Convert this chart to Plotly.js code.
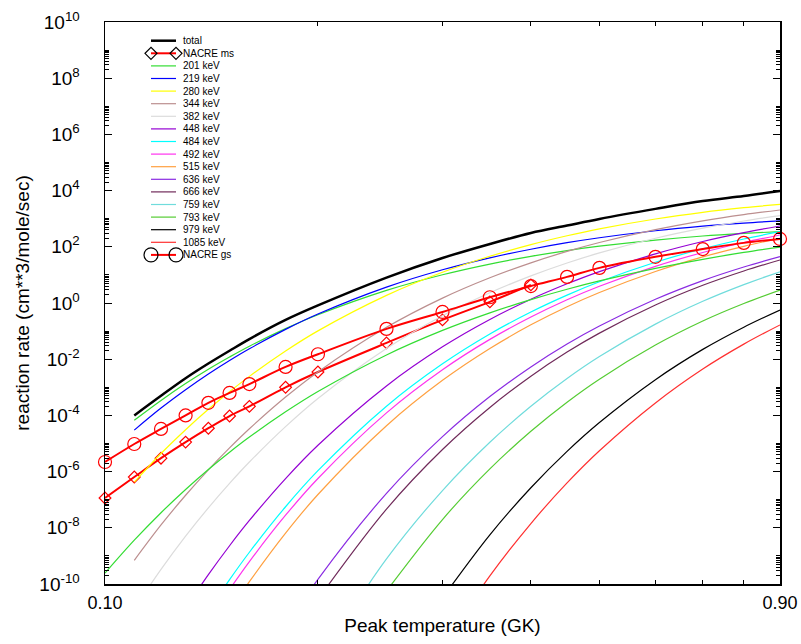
<!DOCTYPE html>
<html><head><meta charset="utf-8">
<script src="https://cdn.plot.ly/plotly-3.0.1.min.js"></script>
<style>html,body{margin:0;padding:0;background:#fff}</style>
</head><body><div id="chart" style="width:801px;height:644px"></div>
<script>
// Peak temperature grid (GK)
const temps = [0.10,0.11,0.12,0.13,0.14,0.15,0.16,0.18,0.20,0.25,0.30,0.35,0.40,0.45,0.50,0.60,0.70,0.80,0.90];

const total   = [null,1.0e-4,5.0e-4,2.1e-3,7.0e-3,2.0e-2,5.2e-2,0.25,0.82,8.0,40,126,310,570,980,2240,4270,6460,9700];
const nacreMs = [1.15e-7,6.4e-7,3.0e-6,1.12e-5,3.5e-5,9.5e-5,2.1e-4,1.0e-3,3.5e-3,3.8e-2,0.25,1.1,4.4,null,null,null,null,null,null];
const nacreGs = [2.2e-6,9.6e-6,3.3e-5,1.0e-4,2.8e-4,6.3e-4,1.3e-3,5.3e-3,1.5e-2,0.12,0.48,1.6,4.0,8.5,17.8,44,83,138,190];

const r201  = [null,6.7e-5,3.4e-4,1.36e-3,4.4e-3,1.2e-2,2.9e-2,0.122,0.38,2.8,10.1,24.3,45.8,73.6,105,174,242,299,347];
const r219  = [null,3.0e-5,1.82e-4,8.2e-4,2.97e-3,8.97e-3,2.35e-2,0.115,0.405,3.67,15.2,40.5,82,140,210,372,542,698,832];
const r280  = [null,4.2e-7,4.4e-6,3.1e-5,1.65e-4,6.97e-4,2.45e-3,1.96e-2,0.102,1.87,12.4,46,120,248,437,977,1690,2460,3240];
const r344  = [null,6.95e-10,1.26e-8,1.44e-7,1.16e-6,6.97e-6,3.34e-5,4.49e-4,3.52e-3,0.136,1.49,7.89,26.9,68.5,142,407,839,1400,2040];
const r382  = [null,1.31e-11,3.32e-10,5.04e-9,5.13e-8,3.82e-7,2.2e-6,4.0e-5,4.02e-4,2.42e-2,0.354,2.31,9.2,26.5,60.5,201,460,830,1290];
const r448  = [null,null,null,1.38e-11,2.15e-10,2.3e-9,1.82e-8,5.66e-7,8.7e-6,1.12e-3,2.75e-2,0.259,1.36,4.82,13.1,56.1,154,318,550];
const r484  = [null,null,null,null,1.1e-11,1.43e-10,1.35e-9,5.61e-8,1.08e-6,2.13e-4,6.86e-3,7.9e-2,0.479,1.91,5.69,28.1,85.3,190,347];
const r492  = [null,null,null,null,null,6.4e-11,6.3e-10,2.8e-8,5.69e-7,1.23e-4,4.22e-3,5.07e-2,0.318,1.31,3.96,20.2,62.8,142,263];
const r515  = [null,null,null,null,null,1.1e-11,1.21e-10,6.47e-9,1.53e-7,4.3e-5,1.77e-3,2.41e-2,0.167,0.738,2.37,13.2,43.7,104,200];
const r636  = [null,null,null,null,null,null,null,2.85e-12,1.47e-10,1.68e-7,1.75e-5,4.67e-4,5.32e-3,3.48e-2,0.153,1.36,6.28,19.1,44.7];
const r666  = [null,null,null,null,null,null,null,null,2.85e-11,4.63e-8,6.12e-6,1.92e-4,2.48e-3,1.79e-2,8.49e-2,0.847,4.27,13.8,33.9];
const r759  = [null,null,null,null,null,null,null,null,1.6e-13,7.8e-10,2.12e-7,1.11e-5,2.11e-4,2.05e-3,1.24e-2,0.177,1.15,4.52,12.9];
const r793  = [null,null,null,null,null,null,null,null,null,5.6e-11,1.97e-8,1.25e-6,2.73e-5,2.96e-4,1.95e-3,3.18e-2,0.228,0.957,2.88];
const r979  = [null,null,null,null,null,null,null,null,null,null,3.18e-11,5.62e-9,2.66e-7,5.25e-6,5.58e-5,1.87e-3,2.24e-2,0.138,0.562];
const r1085 = [null,null,null,null,null,null,null,null,null,null,6.1e-13,1.94e-10,1.42e-8,3.95e-7,5.52e-6,2.78e-4,4.48e-3,3.44e-2,0.166];
// unlabelled green component
const rExtra = [2.44e-10,3.62e-9,3.44e-8,2.31e-7,1.19e-6,4.89e-6,1.69e-5,1.34e-4,7.08e-4,1.42e-2,0.106,0.447,1.32,3.09,6.11,17.1,35.9,63,97.7];

const names  = ["total","NACRE ms","201 keV","219 keV","280 keV","344 keV","382 keV","448 keV","484 keV","492 keV","515 keV","636 keV","666 keV","759 keV","793 keV","979 keV","1085 keV","NACRE gs"];
const series = [total,nacreMs,r201,r219,r280,r344,r382,r448,r484,r492,r515,r636,r666,r759,r793,r979,r1085,nacreGs];
const colors = ["#000000","#ff0000","#33dd33","#0000ff","#ffff00","#bc8f8f","#dcdcdc","#9400d3","#00ffff","#ff33ee","#ffa040","#8a2be2","#702a5a","#70dcdc","#55cc33","#000000","#ff3030","#ff0000"];
const widths = [2.5,2,1.2,1.2,1.2,1.2,1.2,1.2,1.2,1.2,1.2,1.2,1.2,1.2,1.2,1.2,1.2,2];
const yTickVals = [1e-10,1e-8,1e-6,1e-4,1e-2,1,1e2,1e4,1e6,1e8,1e10];
const yTickText = ["10<sup>-10</sup>","10<sup>-8</sup>","10<sup>-6</sup>","10<sup>-4</sup>","10<sup>-2</sup>","10<sup>0</sup>","10<sup>2</sup>","10<sup>4</sup>","10<sup>6</sup>","10<sup>8</sup>","10<sup>10</sup>"];
const xTickVals = [0.1,0.9];
const xTickText = ["0.10","0.90"];
const xMinor = [0.2,0.3,0.4,0.5,0.6,0.7,0.8];

const traces = [];
function addTrace(i, yv) {
  const isMs = names[i] === "NACRE ms", isGs = names[i] === "NACRE gs";
  const t = {x: temps, y: yv, type: 'scatter', showlegend: false,
    mode: (isMs || isGs) ? 'lines+markers' : 'lines',
    line: {color: colors[i], width: widths[i], shape: 'spline', smoothing: 1},
    hoverinfo: 'skip'};
  if (isMs) { t.marker = {symbol: 'diamond-open', size: 9, color: '#ff0000', line: {width: 1.2, color: '#ff0000'}}; t.cliponaxis = false; }
  if (isGs) { t.marker = {symbol: 'circle-open', size: 13, color: '#ff0000', line: {width: 1.2, color: '#ff0000'}}; t.cliponaxis = false; }
  traces.push(t);
}
for (let i = 0; i < series.length - 1; i++) {
  addTrace(i, series[i]);
  if (names[i] === "1085 keV") {
    traces.push({x: temps, y: rExtra, type: 'scatter', mode: 'lines', showlegend: false, hoverinfo: 'skip',
      line: {color: colors[2], width: 1.2, shape: 'spline', smoothing: 1}});
  }
}
addTrace(series.length - 1, series[series.length - 1]);

// custom compact legend
const L = 105, R = 780, T = 22, B = 584;
const shapes = [], annotations = [];
const px2x = p => (p - L) / (R - L), px2y = p => (B - p) / (B - T);
names.forEach((n, i) => {
  const yp = px2y(40.7 + 12.6 * i);
  shapes.push({type: 'line', xref: 'paper', yref: 'paper', x0: px2x(151), x1: px2x(176), y0: yp, y1: yp,
    line: {color: colors[i], width: widths[i]}});
  if (n === "NACRE ms" || n === "NACRE gs") {
    [151, 176].forEach(xp => {
      if (n === "NACRE ms") {
        shapes.push({type: 'path', xref: 'paper', yref: 'paper', xsizemode: 'pixel', ysizemode: 'pixel',
          xanchor: px2x(xp), yanchor: yp, path: 'M 0 -6 L 6 0 L 0 6 L -6 0 Z', line: {color: '#000', width: 1.2}});
      } else {
        shapes.push({type: 'circle', xref: 'paper', yref: 'paper', xsizemode: 'pixel', ysizemode: 'pixel',
          xanchor: px2x(xp), yanchor: yp, x0: -7, x1: 7, y0: -7, y1: 7, line: {color: '#000', width: 1.2}});
      }
    });
  }
  annotations.push({xref: 'paper', yref: 'paper', x: px2x(181), y: yp, xanchor: 'left', yanchor: 'middle',
    text: n, showarrow: false, font: {size: 10, color: '#000', family: 'Liberation Sans, Arial, sans-serif'}});
});

const yMinor = [];
for (let e = -10; e <= 8; e += 2) for (let k = 2; k <= 10; k++) yMinor.push(k * Math.pow(10, e));

const layout = {
  width: 801, height: 644,
  margin: {l: 105, r: 21, t: 22, b: 60},
  paper_bgcolor: '#fff', plot_bgcolor: '#fff',
  font: {family: 'Liberation Sans, Arial, sans-serif', color: '#000'},
  showlegend: false,
  xaxis: {type: 'log', range: [-1, Math.log10(0.9)], tickmode: 'array', tickvals: xTickVals, ticktext: xTickText,
    ticks: 'inside', ticklen: 7, tickwidth: 1, tickcolor: '#000', showline: true, linecolor: '#000', linewidth: 1.5,
    mirror: 'allticks', showgrid: false, zeroline: false, tickfont: {size: 18}, ticklabelstandoff: 2,
    minor: {tickmode: 'array', tickvals: xMinor, ticks: 'inside', ticklen: 4, tickwidth: 1, tickcolor: '#000', showgrid: false},
    title: {text: 'Peak temperature (GK)', font: {size: 19}, standoff: 6}},
  yaxis: {type: 'log', range: [-10, 10], tickmode: 'array', tickvals: yTickVals, ticktext: yTickText,
    ticks: 'inside', ticklen: 7, tickwidth: 1, tickcolor: '#000', showline: true, linecolor: '#000', linewidth: 1.5,
    mirror: 'allticks', showgrid: false, zeroline: false, tickfont: {size: 19}, ticklabelstandoff: 20,
    minor: {tickmode: 'array', tickvals: yMinor, ticks: 'inside', ticklen: 4, tickwidth: 1, tickcolor: '#000', showgrid: false},
    title: {text: 'reaction rate (cm**3/mole/sec)', font: {size: 19}, standoff: 4}},
  shapes: shapes, annotations: annotations
};
Plotly.newPlot('chart', traces, layout, {staticPlot: true, displayModeBar: false});
</script></body></html>
